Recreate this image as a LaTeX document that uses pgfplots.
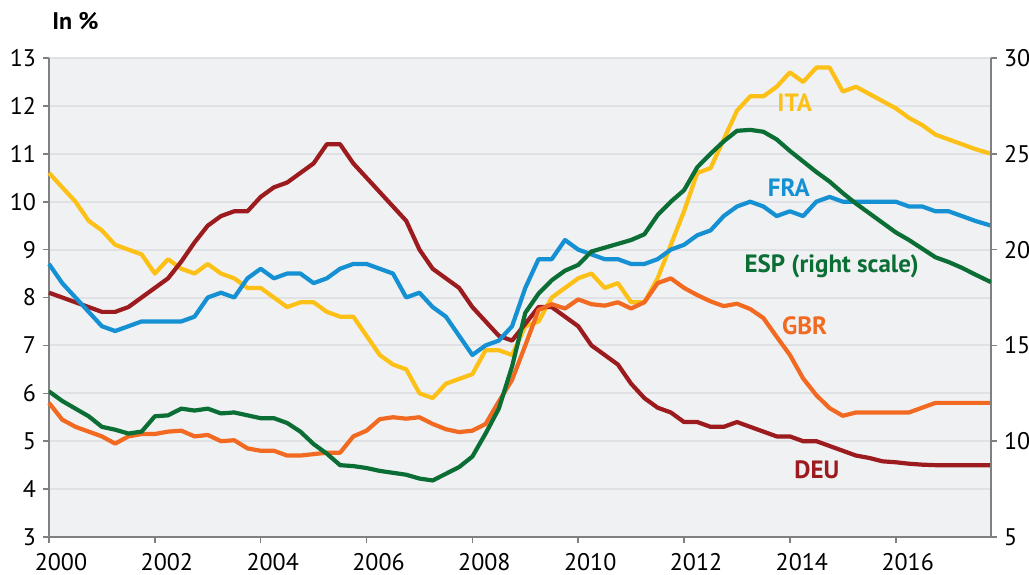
\documentclass[border=0pt]{standalone}
\usepackage{fontspec}
\setmainfont{PT Sans}
\usepackage{pgfplots}
\usepackage{pgfplotstable}
\pgfplotsset{compat=1.18}
\definecolor{deu}{HTML}{9B1B1F}
\definecolor{fra}{HTML}{1591D3}
\definecolor{ita}{HTML}{FDC016}
\definecolor{gbr}{HTML}{F26A21}
\definecolor{esp}{HTML}{0B6E35}
\definecolor{bggray}{HTML}{F0F1F3}
\definecolor{gridgray}{HTML}{E0E1E4}
\definecolor{axisgray}{HTML}{808080}

\pgfplotstableread{
t v
2000.00 8.1
2000.25 8.0
2000.50 7.9
2000.75 7.8
2001.00 7.7
2001.25 7.7
2001.50 7.8
2001.75 8.0
2002.00 8.2
2002.25 8.4
2002.50 8.75
2002.75 9.15
2003.00 9.5
2003.25 9.7
2003.50 9.8
2003.75 9.8
2004.00 10.1
2004.25 10.3
2004.50 10.4
2004.75 10.6
2005.00 10.8
2005.25 11.2
2005.50 11.2
2005.75 10.8
2006.00 10.5
2006.25 10.2
2006.50 9.9
2006.75 9.6
2007.00 9.0
2007.25 8.6
2007.50 8.4
2007.75 8.2
2008.00 7.8
2008.25 7.5
2008.50 7.2
2008.75 7.1
2009.00 7.45
2009.25 7.8
2009.50 7.8
2009.75 7.6
2010.00 7.4
2010.25 7.0
2010.50 6.8
2010.75 6.6
2011.00 6.2
2011.25 5.9
2011.50 5.7
2011.75 5.6
2012.00 5.4
2012.25 5.4
2012.50 5.3
2012.75 5.3
2013.00 5.4
2013.25 5.3
2013.50 5.2
2013.75 5.1
2014.00 5.1
2014.25 5.0
2014.50 5.0
2014.75 4.9
2015.00 4.8
2015.25 4.7
2015.50 4.65
2015.75 4.58
2016.00 4.56
2016.25 4.53
2016.50 4.51
2016.75 4.5
2017.00 4.5
2017.25 4.5
2017.50 4.5
2017.80 4.5
}\deu

\pgfplotstableread{
t v
2000.00 8.7
2000.25 8.3
2000.50 8.0
2000.75 7.7
2001.00 7.4
2001.25 7.3
2001.50 7.4
2001.75 7.5
2002.00 7.5
2002.25 7.5
2002.50 7.5
2002.75 7.6
2003.00 8.0
2003.25 8.1
2003.50 8.0
2003.75 8.4
2004.00 8.6
2004.25 8.4
2004.50 8.5
2004.75 8.5
2005.00 8.3
2005.25 8.4
2005.50 8.6
2005.75 8.7
2006.00 8.7
2006.25 8.6
2006.50 8.5
2006.75 8.0
2007.00 8.1
2007.25 7.8
2007.50 7.6
2007.75 7.2
2008.00 6.8
2008.25 7.0
2008.50 7.1
2008.75 7.4
2009.00 8.2
2009.25 8.8
2009.50 8.8
2009.75 9.2
2010.00 9.0
2010.25 8.9
2010.50 8.8
2010.75 8.8
2011.00 8.7
2011.25 8.7
2011.50 8.8
2011.75 9.0
2012.00 9.1
2012.25 9.3
2012.50 9.4
2012.75 9.7
2013.00 9.9
2013.25 10.0
2013.50 9.9
2013.75 9.7
2014.00 9.8
2014.25 9.7
2014.50 10.0
2014.75 10.1
2015.00 10.0
2015.25 10.0
2015.50 10.0
2015.75 10.0
2016.00 10.0
2016.25 9.9
2016.50 9.9
2016.75 9.8
2017.00 9.8
2017.25 9.7
2017.50 9.6
2017.80 9.5
}\fra

\pgfplotstableread{
t v
2000.00 10.6
2000.25 10.3
2000.50 10.0
2000.75 9.6
2001.00 9.4
2001.25 9.1
2001.50 9.0
2001.75 8.9
2002.00 8.5
2002.25 8.8
2002.50 8.6
2002.75 8.5
2003.00 8.7
2003.25 8.5
2003.50 8.4
2003.75 8.2
2004.00 8.2
2004.25 8.0
2004.50 7.8
2004.75 7.9
2005.00 7.9
2005.25 7.7
2005.50 7.6
2005.75 7.6
2006.00 7.2
2006.25 6.8
2006.50 6.6
2006.75 6.5
2007.00 6.0
2007.25 5.9
2007.50 6.2
2007.75 6.3
2008.00 6.4
2008.25 6.9
2008.50 6.9
2008.75 6.8
2009.00 7.4
2009.25 7.5
2009.50 8.0
2009.75 8.2
2010.00 8.4
2010.25 8.5
2010.50 8.2
2010.75 8.3
2011.00 7.9
2011.25 7.9
2011.50 8.4
2011.75 9.1
2012.00 9.8
2012.25 10.6
2012.50 10.7
2012.75 11.3
2013.00 11.9
2013.25 12.2
2013.50 12.2
2013.75 12.4
2014.00 12.7
2014.25 12.5
2014.50 12.8
2014.75 12.8
2015.00 12.3
2015.25 12.4
2015.50 12.25
2015.75 12.1
2016.00 11.95
2016.25 11.75
2016.50 11.6
2016.75 11.4
2017.00 11.3
2017.25 11.2
2017.50 11.1
2017.80 11.0
}\ita

\pgfplotstableread{
t v
2000.00 5.8
2000.25 5.45
2000.50 5.3
2000.75 5.2
2001.00 5.1
2001.25 4.95
2001.50 5.1
2001.75 5.15
2002.00 5.15
2002.25 5.2
2002.50 5.22
2002.75 5.1
2003.00 5.13
2003.25 5.0
2003.50 5.02
2003.75 4.85
2004.00 4.8
2004.25 4.8
2004.50 4.7
2004.75 4.7
2005.00 4.73
2005.25 4.76
2005.50 4.76
2005.75 5.1
2006.00 5.22
2006.25 5.46
2006.50 5.5
2006.75 5.47
2007.00 5.5
2007.25 5.36
2007.50 5.25
2007.75 5.19
2008.00 5.22
2008.25 5.36
2008.50 5.83
2008.75 6.28
2009.00 7.0
2009.25 7.74
2009.50 7.86
2009.75 7.77
2010.00 7.96
2010.25 7.86
2010.50 7.83
2010.75 7.9
2011.00 7.77
2011.25 7.9
2011.50 8.3
2011.75 8.4
2012.00 8.2
2012.25 8.05
2012.50 7.92
2012.75 7.82
2013.00 7.87
2013.25 7.76
2013.50 7.57
2013.75 7.18
2014.00 6.8
2014.25 6.31
2014.50 5.96
2014.75 5.69
2015.00 5.53
2015.25 5.6
2015.50 5.6
2015.75 5.6
2016.00 5.6
2016.25 5.6
2016.50 5.7
2016.75 5.8
2017.00 5.8
2017.25 5.8
2017.50 5.8
2017.80 5.8
}\gbr

\pgfplotstableread{
t v
2000.00 12.6
2000.25 12.1
2000.50 11.7
2000.75 11.3
2001.00 10.75
2001.25 10.6
2001.50 10.4
2001.75 10.5
2002.00 11.3
2002.25 11.35
2002.50 11.7
2002.75 11.6
2003.00 11.7
2003.25 11.45
2003.50 11.5
2003.75 11.35
2004.00 11.2
2004.25 11.2
2004.50 10.95
2004.75 10.5
2005.00 9.85
2005.25 9.35
2005.50 8.75
2005.75 8.7
2006.00 8.6
2006.25 8.45
2006.50 8.35
2006.75 8.25
2007.00 8.05
2007.25 7.95
2007.50 8.3
2007.75 8.65
2008.00 9.2
2008.25 10.4
2008.50 11.7
2008.75 13.9
2009.00 16.7
2009.25 17.7
2009.50 18.4
2009.75 18.9
2010.00 19.2
2010.25 19.9
2010.50 20.1
2010.75 20.3
2011.00 20.5
2011.25 20.8
2011.50 21.8
2011.75 22.5
2012.00 23.1
2012.25 24.3
2012.50 25.0
2012.75 25.65
2013.00 26.2
2013.25 26.25
2013.50 26.15
2013.75 25.75
2014.00 25.15
2014.25 24.6
2014.50 24.05
2014.75 23.55
2015.00 22.95
2015.25 22.4
2015.50 21.9
2015.75 21.4
2016.00 20.9
2016.25 20.5
2016.50 20.05
2016.75 19.6
2017.00 19.35
2017.25 19.05
2017.50 18.7
2017.80 18.3
}\esp

\pgfplotsset{
  common/.style={
    scale only axis, width=471pt, height=239.5pt,
    at={(0,0)}, anchor=south west,
    xmin=2000, xmax=2017.8,
    axis line style={draw=axisgray, line width=1pt},
    tick style={draw=axisgray, line width=0.8pt},
    major tick length=3pt, tick align=outside,
    /pgf/number format/assume math mode=true,
    /pgf/number format/1000 sep={},
    tick label style={font=\fontsize{12}{14}\selectfont, text=black},
    every axis plot/.append style={line width=2.1pt, line join=round, mark=none},
  }
}

\begin{document}
\begin{tikzpicture}
\path[use as bounding box] (-24.5pt,-18.5pt) rectangle (490pt,268.5pt);
\begin{axis}[common,
  ymin=3, ymax=13,
  axis x line*=bottom, axis y line*=left,
  xtick={2000,2002,...,2016},
  ytick={3,4,...,13},
  x tick label style={yshift=-4.3pt, xshift=6pt, inner ysep=0.5pt},
  ymajorgrids, grid style={draw=gridgray, line width=1pt},
  axis background/.style={fill=bggray},
  clip=false]
\addplot[ita] table[x=t,y=v]{\ita};
\addplot[deu] table[x=t,y=v]{\deu};
\addplot[fra] table[x=t,y=v]{\fra};
\addplot[gbr] table[x=t,y=v]{\gbr};
\node[text=ita, font=\bfseries\fontsize{12.5}{14}\selectfont] at (axis cs:2014.09,12.06) {ITA};
\node[text=fra, font=\bfseries\fontsize{12.5}{14}\selectfont] at (axis cs:2013.98,10.29) {FRA};
\node[text=esp, font=\bfseries\fontsize{12.5}{14}\selectfont] at (axis cs:2014.79,8.66) {ESP (right scale)};
\node[text=gbr, font=\bfseries\fontsize{12.5}{14}\selectfont] at (axis cs:2014.28,7.40) {GBR};
\node[text=deu, font=\bfseries\fontsize{12.5}{14}\selectfont] at (axis cs:2014.51,4.40) {DEU};
\node[anchor=base west, font=\bfseries\fontsize{12}{14}\selectfont, inner sep=0pt] at ([xshift=1.5pt,yshift=14.5pt]rel axis cs:0,1) {In \%};
\end{axis}
\begin{axis}[common,
  ymin=5, ymax=30,
  axis y line*=right, axis x line=none,
  ytick={5,10,...,30}]
\addplot[esp] table[x=t,y=v]{\esp};
\end{axis}
\end{tikzpicture}
\end{document}
